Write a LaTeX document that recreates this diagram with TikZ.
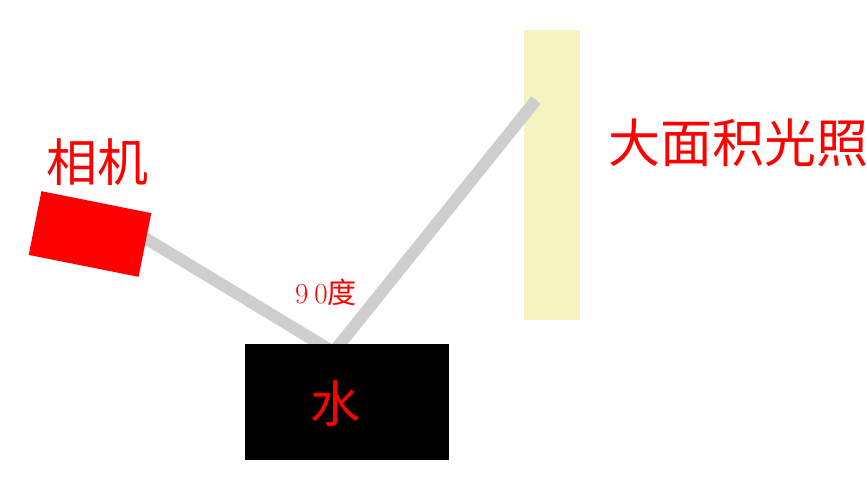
\documentclass[tikz,border=0pt]{standalone}
\usepackage{fontspec}
\usepackage{xcolor}
\newfontfamily\cjk{Noto Sans CJK SC}
\definecolor{beamgray}{RGB}{206,206,206}
\definecolor{lightyellow}{RGB}{245,244,192}

\begin{document}
\begin{tikzpicture}[x=1pt,y=-1pt]
	\tikzstyle{beam} = [draw=beamgray, line width=12pt, line join=miter]
	\tikzstyle{redtext} = [text=red, inner sep=0pt]
	\useasboundingbox (0,0) rectangle (867,498);
		% light source panel
		\node[fill=lightyellow, minimum width=56pt, minimum height=290pt, inner sep=0pt] (panel) at (552,175) {};
		\coordinate (lens) at (145,238);
		\coordinate (vertex) at (333.5,352);
		\coordinate (lamp) at (536,100);

		\draw[beam] (lens) -- (vertex) -- (lamp);

		\node[fill=black, minimum width=204pt, minimum height=116pt, inner sep=0pt] (water) at (347,402) {};
		\node[fill=red, minimum width=112pt, minimum height=65pt, inner sep=0pt, rotate=-11.3] (camera) at (90,234) {};

		\node[redtext, font=\cjk\fontsize{50}{50}\selectfont] (waterlabel) at (335,404) {水};
		\node[redtext, font=\cjk\fontsize{51}{51}\selectfont] (cameralabel) at (97,162) {相机};
		\node[redtext, font=\cjk\fontsize{52}{52}\selectfont, anchor=west] (lightlabel) at (608,143) {大面积光照};
		\node[redtext, font=\fontsize{29}{29}\selectfont] (angle) at (326,292) {9\hspace{6pt}0{\cjk 度}};
	\end{tikzpicture}
\end{document}
